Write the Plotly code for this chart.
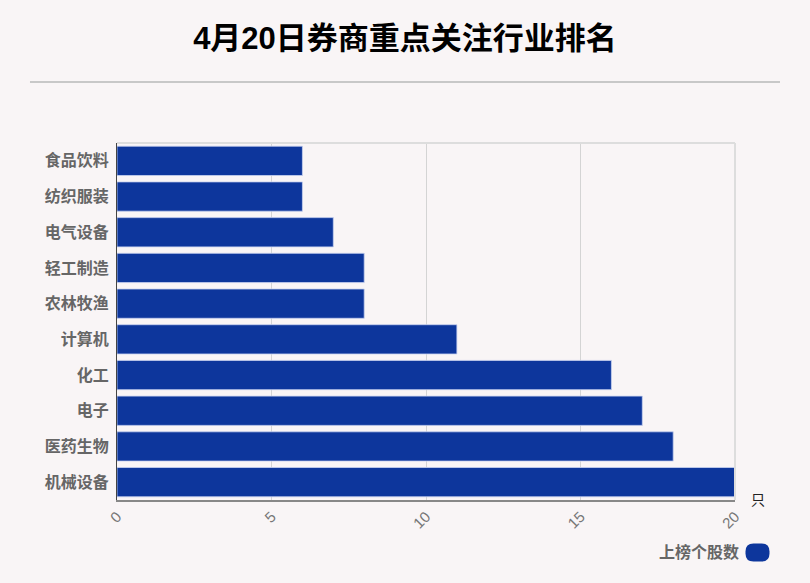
import plotly.graph_objects as go

categories = ["食品饮料", "纺织服装", "电气设备", "轻工制造", "农林牧渔", "计算机", "化工", "电子", "医药生物", "机械设备"]
values = [6, 6, 7, 8, 8, 11, 16, 17, 18, 20]
x_ticks = [0, 5, 10, 15, 20]
series_name = "上榜个股数"
unit_label = "只"
title_text = "4月20日券商重点关注行业排名"

BG = "#f9f5f6"
BAR = "#0d369c"
FONT = "Liberation Sans, Arial, Noto Sans CJK SC, sans-serif"

fig = go.Figure()
fig.add_trace(go.Bar(
    y=categories, x=values, orientation="h", name=series_name,
    marker=dict(color=BAR, line=dict(color="rgba(200,210,240,0.8)", width=1)),
    showlegend=False,
))

# rounded legend swatch path (pixel units relative to anchor)
w, h, r = 24, 18, 8
swatch = (f"M {-w/2+r},{-h/2} L {w/2-r},{-h/2} Q {w/2},{-h/2} {w/2},{-h/2+r} "
          f"L {w/2},{h/2-r} Q {w/2},{h/2} {w/2-r},{h/2} L {-w/2+r},{h/2} "
          f"Q {-w/2},{h/2} {-w/2},{h/2-r} L {-w/2},{-h/2+r} Q {-w/2},{-h/2} {-w/2+r},{-h/2} Z")

fig.update_layout(
    width=810, height=583,
    paper_bgcolor=BG, plot_bgcolor=BG,
    margin=dict(l=117, r=75, t=143, b=83),
    bargap=0.18,
    font=dict(family=FONT),
    title=dict(text="<b>" + title_text + "</b>", x=0.5, xanchor="center", y=0.935, yanchor="middle",
               font=dict(size=31, color="#000000", family=FONT)),
    xaxis=dict(range=[0, 20], tickvals=x_ticks, ticktext=[str(v) for v in x_ticks],
               tickangle=-45, tickfont=dict(size=15, color="#777777"),
               showgrid=True, gridcolor="#d4d4d4", gridwidth=1,
               showline=True, linecolor="#888888", linewidth=2, mirror=False,
               zeroline=False, ticks="", fixedrange=True),
    yaxis=dict(autorange="reversed", tickfont=dict(size=16, color="#666666", weight="bold"),
               ticklabelstandoff=4,
               showline=True, linecolor="#444444", linewidth=1, showgrid=False,
               ticks="", fixedrange=True),
    shapes=[
        dict(type="line", xref="paper", yref="paper", x0=-0.1408, x1=1.0728, y0=1.171, y1=1.171,
             line=dict(color="#c8c8c8", width=2)),
        dict(type="line", xref="paper", yref="paper", x0=0, x1=1, y0=1, y1=1,
             line=dict(color="#dddddd", width=2)),
        dict(type="line", xref="paper", yref="paper", x0=1, x1=1, y0=0, y1=1,
             line=dict(color="#dddddd", width=2)),
        dict(type="path", xref="paper", yref="paper", xsizemode="pixel", ysizemode="pixel",
             xanchor=1.0364, yanchor=-0.147, path=swatch, line=dict(width=0), fillcolor=BAR),
    ],
    annotations=[
        dict(text=unit_label, xref="paper", yref="paper", x=1.022, y=0.0, xanchor="left", yanchor="middle",
             showarrow=False, font=dict(size=14, color="#222222")),
        dict(text="<b>" + series_name + "</b>", xref="paper", yref="paper", x=1.0105, y=-0.147,
             xanchor="right", yanchor="middle", showarrow=False, font=dict(size=16, color="#666666")),
    ],
)

fig.write_html("out.html", config={"displayModeBar": False},
               post_script="document.body.style.margin='0';document.body.style.overflow='hidden';")
